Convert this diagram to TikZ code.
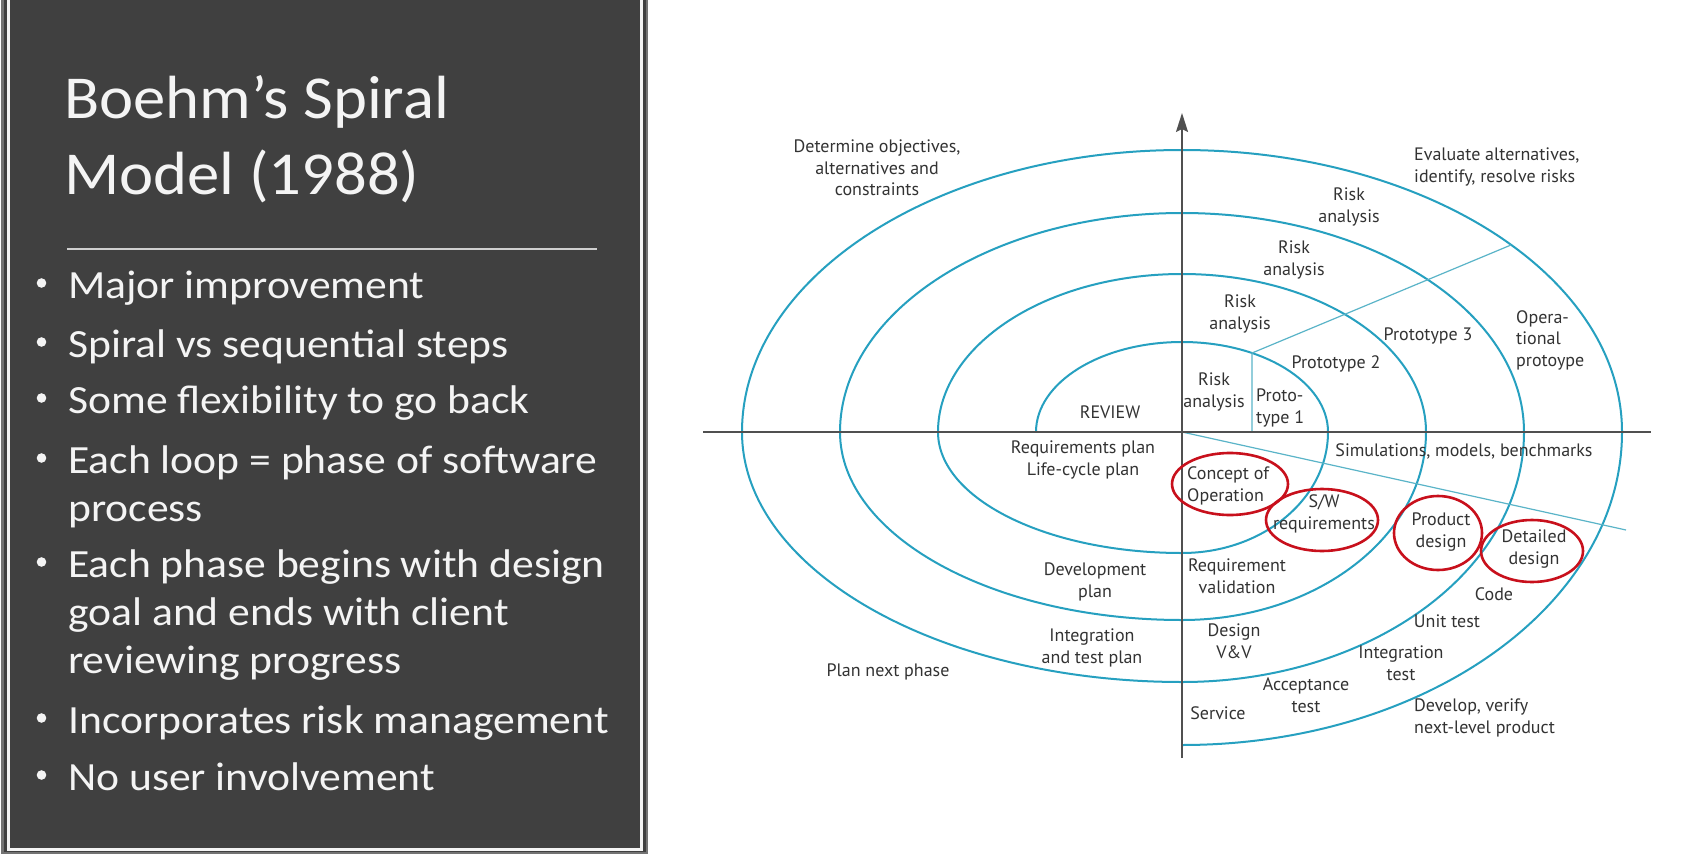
\documentclass[tikz,border=0pt]{standalone}
\usepackage{fontspec}
\setmainfont{Carlito}
\newfontfamily\titlefont{Carlito}[FakeStretch=1.06]
\newfontfamily\bodyfont{Carlito}[FakeStretch=1.09]
\newfontfamily\figfont{PT Sans}
\usetikzlibrary{arrows.meta}

\definecolor{panelbg}{HTML}{404040}
\definecolor{panelline}{HTML}{F4F4F4}
\definecolor{spiralc}{RGB}{38,160,192}
\definecolor{radialc}{RGB}{90,180,200}
\definecolor{axisc}{HTML}{505050}
\definecolor{inkc}{HTML}{333333}
\definecolor{markc}{HTML}{C8101C}

\begin{document}
\begin{tikzpicture}[x=1pt,y=1pt,
  title/.style={anchor=base west, inner sep=0pt, text=panelline,
    font=\titlefont\fontsize{61}{76}\selectfont},
  item/.style={anchor=base west, inner sep=0pt, text=panelline,
    font=\bodyfont\fontsize{40}{48}\selectfont},
  lbl/.style={inner sep=0pt, text=inkc, align=center,
    font=\figfont\fontsize{18}{21.5}\selectfont},
  lblL/.style={lbl, align=left, anchor=west},
  spiralline/.style={draw=spiralc, line width=2pt},
  radial/.style={draw=radialc, line width=1.2pt},
  axisline/.style={draw=axisc, line width=1.8pt},
  ring/.style={draw=markc, line width=2.6pt}]

\useasboundingbox (0,0) rectangle (1692,-854);
\fill[white] (0,0) rectangle (1692,-854);

% ---------- left text panel ----------
\fill[axisc!80] (1,6) rectangle (648,-854);
\fill[panelbg] (4,6) rectangle (646,-852);
\draw[panelline, line width=3pt] (8,10) -- (8,-849.5) -- (641.5,-849.5) -- (641.5,10);

\node[title] (t1) at (64,-118) {Boehm’s Spiral};
\node[title] (t2) at (64,-194) {Model (1988)};
\draw[panelline!85!black, line width=2.5pt] (67,-249) -- (597,-249);

\foreach \yy in {298,357,413,473,577,733,790}
  \fill[panelline] (41.5,-\yy+15) circle (4.8);

\node[item] (b1) at (68,-298) {Major improvement};
\node[item] (b2) at (68,-357) {Spiral vs sequential steps};
\node[item] (b3) at (68,-413) {Some flexibility to go back};
\node[item] (b4) at (68,-473) {\parbox[t]{620pt}{Each loop = phase of software\\process}};
\node[item] (b5) at (68,-577) {\parbox[t]{620pt}{Each phase begins with design\\goal and ends with client\\reviewing progress}};
\node[item] (b6) at (68,-733) {Incorporates risk management};
\node[item] (b7) at (68,-790) {No user involvement};

% ---------- spiral model ----------
\coordinate (O) at (1182,-432);
\coordinate (axL) at (703,-432);
\coordinate (axR) at (1651,-432);
\coordinate (axB) at (1182,-758);
\coordinate (axT) at (1182,-113);

% spiral: upper half ellipses joined to lower quarter ellipses
\draw[spiralline] (1036,-432)
  arc[start angle=180, end angle=0, x radius=146, y radius=90]
  arc[start angle=0, end angle=-90, x radius=146, y radius=121]
  arc[start angle=-90, end angle=-180, x radius=244, y radius=121]
  arc[start angle=180, end angle=0, x radius=244, y radius=158]
  arc[start angle=0, end angle=-90, x radius=244, y radius=188]
  arc[start angle=-90, end angle=-180, x radius=342, y radius=188]
  arc[start angle=180, end angle=0, x radius=342, y radius=219]
  arc[start angle=0, end angle=-90, x radius=342, y radius=250]
  arc[start angle=-90, end angle=-180, x radius=440, y radius=250]
  arc[start angle=180, end angle=0, x radius=440, y radius=282]
  arc[start angle=0, end angle=-90, x radius=440, y radius=313];

% radial divisions
\coordinate (r1) at (1252,-432);
\coordinate (r2) at (1252,-353);
\coordinate (r3) at (1511,-245);
\coordinate (r4) at (1626,-530);
\draw[radial] (r1) -- (r2) -- (r3);
\draw[radial] (O) -- (r4);

% axes
\draw[axisline] (axL) -- (axR);
\draw[axisline, -{Stealth[length=19pt, width=12pt, inset=3pt]}] (axB) -- (axT);

% quadrant labels
\node[lbl] (det) at (877,-168) {Determine objectives,\\alternatives and\\constraints};
\node[lblL] (eval) at (1414,-167) {Evaluate alternatives,\\identify, resolve risks};
\node[lbl] (pnp) at (888,-672) {Plan next phase};
\node[lblL] (dev) at (1414,-718) {Develop, verify\\next-level product};

% risk analysis and prototypes
\node[lbl] (ra4) at (1349,-207) {Risk\\analysis};
\node[lbl] (ra3) at (1294,-260) {Risk\\analysis};
\node[lbl] (ra2) at (1240,-314) {Risk\\analysis};
\node[lbl] (ra1) at (1214,-392) {Risk\\analysis};
\node[lblL] (pt1) at (1256,-408) {Proto-\\type 1};
\node[lbl] (pt2) at (1336,-364) {Prototype 2};
\node[lbl] (pt3) at (1428,-336) {Prototype 3};
\node[lblL] (opp) at (1516,-340) {Opera-\\tional\\protoype};

% planning
\node[lbl] (rev) at (1110,-412) {REVIEW};
\node[lbl] (rqp) at (1083,-460) {Requirements plan\\Life-cycle plan};
\node[lbl] (dvp) at (1095,-582) {Development\\plan};
\node[lbl] (itp) at (1092,-648) {Integration\\and test plan};

% development
\node[lbl] (sim) at (1464,-451) {Simulations, models, benchmarks};
\node[lblL] (cop) at (1187,-486) {Concept of\\Operation};
\node[lbl] (swr) at (1324,-514) {S/W\\requirements};
\node[lbl] (pdd) at (1441,-532) {Product\\design};
\node[lbl] (ddd) at (1534,-549) {Detailed\\design};
\node[lbl] (rqv) at (1237,-576) {Requirement\\validation};
\node[lbl] (cod) at (1494,-594) {Code};
\node[lbl] (utt) at (1447,-621) {Unit test};
\node[lbl] (dvv) at (1234,-641) {Design\\V\&V};
\node[lbl] (itt) at (1401,-663) {Integration\\test};
\node[lbl] (act) at (1306,-695) {Acceptance\\test};
\node[lbl] (svc) at (1218,-713) {Service};

% highlighted stages
\draw[ring] (1230,-484) ellipse [x radius=58, y radius=31];
\draw[ring] (1322,-520) ellipse [x radius=56, y radius=31];
\draw[ring] (1438,-533) ellipse [x radius=44, y radius=37];
\draw[ring] (1532,-551) ellipse [x radius=51, y radius=31];
\end{tikzpicture}
\end{document}
